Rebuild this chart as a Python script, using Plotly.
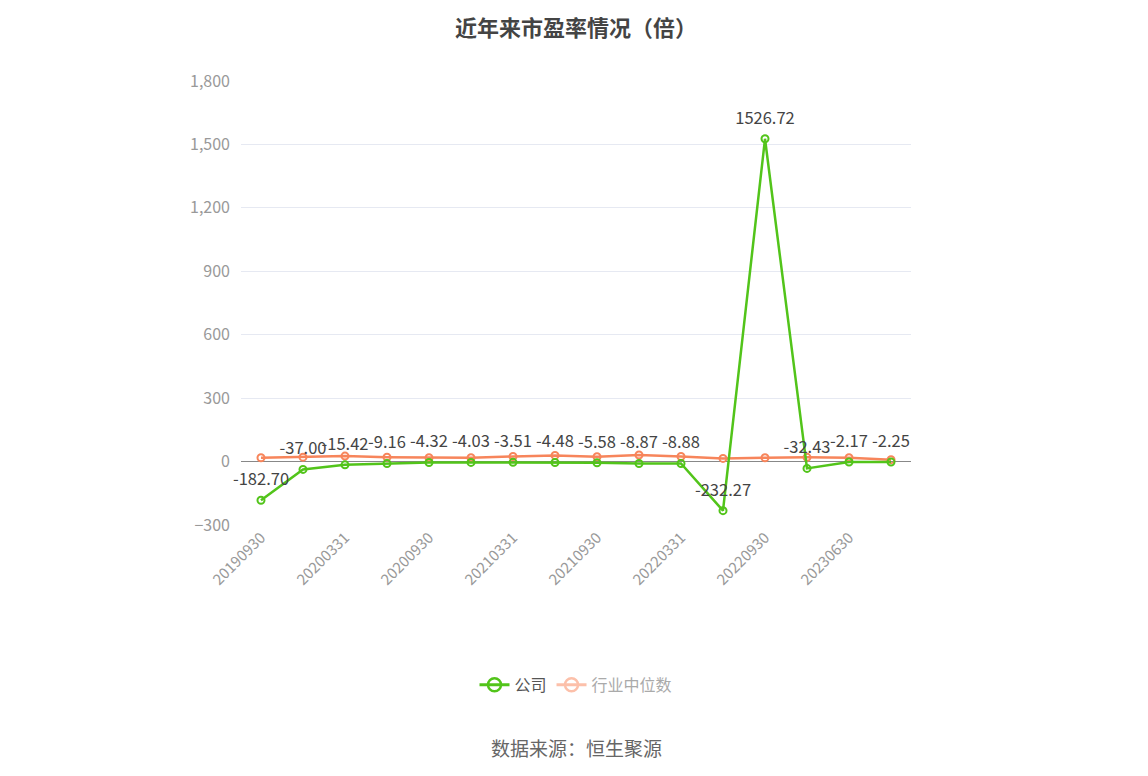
import plotly.graph_objects as go

dates = ['20190930', '20191231', '20200331', '20200630', '20200930', '20201231',
         '20210331', '20210630', '20210930', '20211231', '20220331', '20220630',
         '20220930', '20230331', '20230630', '20230930']
company = [-182.70, -37.00, -15.42, -9.16, -4.32, -4.03, -3.51, -4.48,
           -5.58, -8.87, -8.88, -232.27, 1526.72, -32.43, -2.17, -2.25]
industry = [18, 21, 26, 21, 18, 18, 24, 29, 23, 31, 24, 15, 18, 20, 18, 9]
shown_ticks = dates[::2]

green = '#52c41a'
orange = '#f7855b'
font_cn = 'Noto Sans CJK SC'

fig = go.Figure()

fig.add_trace(go.Scatter(
    x=dates, y=industry, name='行业中位数', mode='lines+markers',
    line=dict(color=orange, width=2.5),
    marker=dict(symbol='circle-open', size=7, color=orange, line=dict(width=2)),
    showlegend=False, hoverinfo='skip'
))
fig.add_trace(go.Scatter(
    x=dates, y=company, name='公司', mode='lines+markers',
    line=dict(color=green, width=2.5),
    marker=dict(symbol='circle-open', size=7, color=green, line=dict(width=2)),
    showlegend=False, hoverinfo='skip'
))
# value labels: invisible bigger markers push the text a bit higher
fig.add_trace(go.Scatter(
    x=dates, y=company, mode='markers+text',
    text=['%.2f' % v for v in company], textposition='top center',
    textfont=dict(size=16.5, color='#444', family=font_cn), cliponaxis=False,
    marker=dict(size=16, color='rgba(0,0,0,0)'),
    showlegend=False, hoverinfo='skip'
))
# legend-only entries (bigger icons, second one drawn pale as in the reference)
fig.add_trace(go.Scatter(
    x=[None], y=[None], name='公司', mode='lines+markers',
    line=dict(color=green, width=3),
    marker=dict(symbol='circle-open', size=13, color=green, line=dict(width=2.5))
))
fig.add_trace(go.Scatter(
    x=[None], y=[None], name='<span style="color:#aaa">行业中位数</span>',
    mode='lines+markers',
    line=dict(color='#fcc0aa', width=3),
    marker=dict(symbol='circle-open', size=13, color='#fcc0aa', line=dict(width=2.5))
))

# small tick marks hanging below the zero line
for d in shown_ticks:
    fig.add_shape(type='line', xref='x', yref='y', x0=d, x1=d,
                  ysizemode='pixel', yanchor=0, y0=0, y1=-6,
                  line=dict(color='#888', width=1))

fig.update_layout(
    width=1132, height=760,
    margin=dict(l=233, r=229, t=73, b=243),
    paper_bgcolor='white', plot_bgcolor='white',
    font=dict(family=font_cn),
    legend=dict(orientation='h', x=0.5, xanchor='center', y=-0.36, yanchor='middle',
                font=dict(size=16, color='#555', family=font_cn),
                traceorder='normal'),
    annotations=[
        dict(text='<b>近年来市盈率情况（倍）</b>', xref='paper', yref='paper',
             x=0.5, y=1 + 55 / 444, xanchor='center', yanchor='middle',
             showarrow=False, font=dict(size=22, color='#444', family=font_cn)),
        dict(text='数据来源：恒生聚源', xref='paper', yref='paper',
             x=0.5, y=-0.502, xanchor='center', yanchor='middle',
             showarrow=False, font=dict(size=19, color='#666', family=font_cn)),
    ],
)

fig.update_xaxes(
    type='category', categoryorder='array', categoryarray=dates,
    range=[-0.476, len(dates) - 1 + 0.476],
    tickvals=shown_ticks, ticktext=shown_ticks, tickangle=-45,
    tickfont=dict(size=15, color='#999'), showgrid=False, showline=False,
    ticks=''
)
fig.update_yaxes(
    range=[-300, 1800], dtick=300, tickformat=',',
    tickfont=dict(size=16, color='#999'), gridcolor='#e6e9f2', gridwidth=1,
    zeroline=True, zerolinecolor='#888', zerolinewidth=1, showline=False,
    ticklabelstandoff=10
)

fig.write_html('out.html')
